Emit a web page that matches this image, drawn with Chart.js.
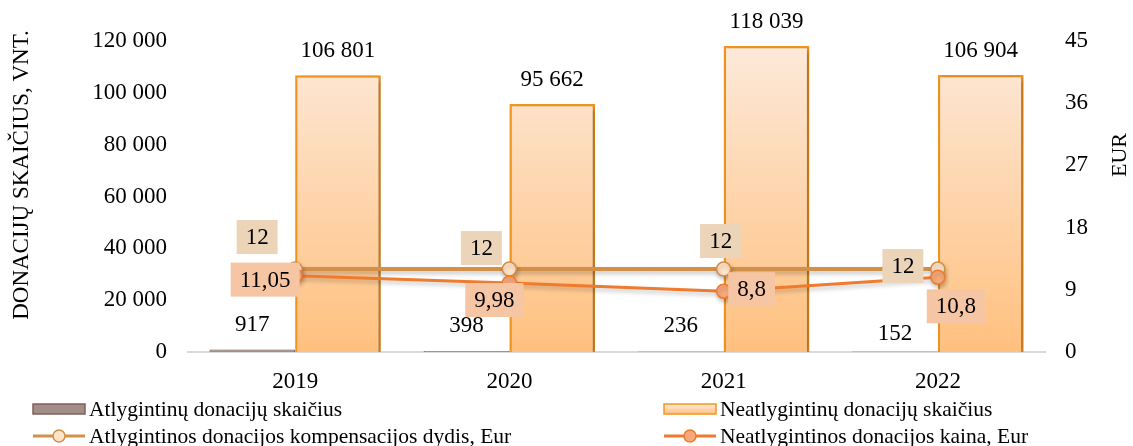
<!DOCTYPE html>
<html>
<head>
<meta charset="utf-8">
<script src="https://cdn.jsdelivr.net/npm/chart.js@4.4.0/dist/chart.umd.min.js"></script>
<style>
    html, body { margin: 0; padding: 0; background: #fff; }
    #wrap { width: 1133px; height: 446px; position: relative; }
</style>
</head>
<body>
<div id="wrap"><canvas id="donationsChart"></canvas></div>
<script>
const years = ['2019', '2020', '2021', '2022'];
const paidCount = [917, 398, 236, 152];
const unpaidCount = [106801, 95662, 118039, 106904];
const paidCompensation = [12, 12, 12, 12];
const unpaidPrice = [11.05, 9.98, 8.8, 10.8];
const countTicks = [0, 20000, 40000, 60000, 80000, 100000, 120000];
const eurTicks = [0, 9, 18, 27, 36, 45];

const seriesNames = [
    'Atlygintinų donacijų skaičius',
    'Neatlygintinų donacijų skaičius',
    'Atlygintinos donacijos kompensacijos dydis, Eur',
    'Neatlygintinos donacijos kaina, Eur'
];
const leftTitle = 'DONACIJŲ SKAIČIUS, VNT.';
const rightTitle = 'EUR';

// label placement relative to the mark (px)
const paidLabelDy = [-25, -25, -25, -18];
const unpaidLabelDy = -24;
const compLabelOffset = [[-38, -32], [-28, -21], [-3, -28], [-35, -3]];
const priceLabelOffset = [[-30, 4], [-15, 17], [28, -2], [18, 29]];

const FONT = "'Liberation Serif', 'Times New Roman', serif";
const BROWN = '#a48d86';
const BROWN_BORDER = '#7d625a';
const ORANGE_BORDER = '#f5961f';
const TAN = '#d39049';
const ORANGE = '#ee7b2e';

function formatNumber(num) {
    return String(num).replace(/\B(?=(\d{3})+(?!\d))/g, ' ');
}

function formatDecimal(num) {
    return String(num).replace('.', ',');
}

function orangeGradient(ctx, top, bottom) {
    const g = ctx.createLinearGradient(0, top, 0, bottom);
    g.addColorStop(0, '#fdeadb');
    g.addColorStop(1, '#ffc07e');
    return g;
}

const shadowPlugin = {
    id: 'shadows',
    beforeDatasetDraw(chart, args) {
        const ctx = chart.ctx;
        ctx.save();
        if (chart.data.datasets[args.index].type === 'bar') {
            ctx.shadowColor = 'rgba(0,0,0,0.28)';
            ctx.shadowBlur = 6;
            ctx.shadowOffsetX = 3;
            ctx.shadowOffsetY = 2;
        } else {
            ctx.shadowColor = 'rgba(0,0,0,0.22)';
            ctx.shadowBlur = 4;
            ctx.shadowOffsetX = 1;
            ctx.shadowOffsetY = 3;
        }
    },
    afterDatasetDraw(chart) {
        chart.ctx.restore();
    }
};

function drawBox(ctx, text, cx, cy, bg) {
    ctx.font = '23px ' + FONT;
    const w = ctx.measureText(text).width + 18;
    const h = 34;
    ctx.fillStyle = bg;
    ctx.fillRect(cx - w / 2, cy - h / 2, w, h);
    ctx.fillStyle = '#000';
    ctx.textAlign = 'center';
    ctx.textBaseline = 'middle';
    ctx.fillText(text, cx, cy + 1);
}

const labelsPlugin = {
    id: 'valueLabels',
    afterDatasetsDraw(chart) {
        const ctx = chart.ctx;
        ctx.save();
        ctx.font = '23px ' + FONT;
        ctx.fillStyle = '#000';
        ctx.textAlign = 'center';
        ctx.textBaseline = 'middle';

        chart.getDatasetMeta(0).data.forEach((bar, i) => {
            ctx.fillText(formatNumber(paidCount[i]), bar.x, bar.y + paidLabelDy[i]);
        });
        chart.getDatasetMeta(1).data.forEach((bar, i) => {
            ctx.fillText(formatNumber(unpaidCount[i]), bar.x, bar.y + unpaidLabelDy);
        });
        chart.getDatasetMeta(2).data.forEach((pt, i) => {
            drawBox(ctx, formatDecimal(paidCompensation[i]), pt.x + compLabelOffset[i][0], pt.y + compLabelOffset[i][1], '#ecd4b9');
        });
        chart.getDatasetMeta(3).data.forEach((pt, i) => {
            drawBox(ctx, formatDecimal(unpaidPrice[i]), pt.x + priceLabelOffset[i][0], pt.y + priceLabelOffset[i][1], '#f6c5a3');
        });
        ctx.restore();
    }
};

const titlesLegendPlugin = {
    id: 'titlesLegend',
    afterDraw(chart) {
        const ctx = chart.ctx;
        ctx.save();
        ctx.fillStyle = '#000';
        ctx.textAlign = 'center';
        ctx.textBaseline = 'middle';

        ctx.font = '23px ' + FONT;
        ctx.save();
        ctx.translate(22, 175);
        ctx.rotate(-Math.PI / 2);
        ctx.fillText(leftTitle, 0, 0);
        ctx.restore();

        ctx.font = '22px ' + FONT;
        ctx.save();
        ctx.translate(1120, 155);
        ctx.rotate(-Math.PI / 2);
        ctx.fillText(rightTitle, 0, 0);
        ctx.restore();

        // legend
        const items = [
            { x: 33, y: 409, kind: 'rect', fill: BROWN, border: BROWN_BORDER },
            { x: 664, y: 409, kind: 'rect', fill: 'grad', border: ORANGE_BORDER },
            { x: 33, y: 436, kind: 'line', color: TAN, fill: '#fde3c8' },
            { x: 664, y: 436, kind: 'line', color: ORANGE, fill: '#f6a878' }
        ];
        ctx.textAlign = 'left';
        ctx.font = '21.5px ' + FONT;
        items.forEach((it, i) => {
            if (it.kind === 'rect') {
                ctx.fillStyle = it.fill === 'grad' ? orangeGradient(ctx, it.y - 5, it.y + 5) : it.fill;
                ctx.fillRect(it.x, it.y - 5, 52, 10);
                ctx.strokeStyle = it.border;
                ctx.lineWidth = 1.5;
                ctx.strokeRect(it.x, it.y - 5, 52, 10);
            } else {
                ctx.strokeStyle = it.color;
                ctx.lineWidth = 3;
                ctx.beginPath();
                ctx.moveTo(it.x, it.y);
                ctx.lineTo(it.x + 52, it.y);
                ctx.stroke();
                ctx.beginPath();
                ctx.arc(it.x + 26, it.y, 6, 0, Math.PI * 2);
                ctx.fillStyle = it.fill;
                ctx.fill();
                ctx.lineWidth = 1.5;
                ctx.stroke();
            }
            ctx.fillStyle = '#000';
            ctx.fillText(seriesNames[i], it.x + 56, it.y + 1);
        });
        ctx.restore();
    }
};

function initDonationsChart() {
    const ctx = document.getElementById('donationsChart').getContext('2d');

    new Chart(ctx, {
        data: {
            labels: years,
            datasets: [{
                type: 'bar',
                label: seriesNames[0],
                data: paidCount,
                backgroundColor: BROWN,
                borderColor: BROWN_BORDER,
                borderWidth: 1,
                yAxisID: 'y',
                order: 2
            }, {
                type: 'bar',
                label: seriesNames[1],
                data: unpaidCount,
                backgroundColor: function(context) {
                    const area = context.chart.chartArea;
                    if (!area) return '#ffd0a0';
                    return orangeGradient(context.chart.ctx, area.top, area.bottom);
                },
                borderColor: ORANGE_BORDER,
                borderWidth: 2.5,
                yAxisID: 'y',
                order: 2
            }, {
                type: 'line',
                label: seriesNames[2],
                data: paidCompensation,
                borderColor: TAN,
                borderWidth: 4,
                pointRadius: 7,
                pointBorderWidth: 1.5,
                pointBackgroundColor: '#fde3c8',
                pointBorderColor: TAN,
                tension: 0,
                yAxisID: 'y1',
                order: 1
            }, {
                type: 'line',
                label: seriesNames[3],
                data: unpaidPrice,
                borderColor: ORANGE,
                borderWidth: 3,
                pointRadius: 7,
                pointBorderWidth: 1.5,
                pointBackgroundColor: '#f6a878',
                pointBorderColor: ORANGE,
                tension: 0,
                yAxisID: 'y1',
                order: 0
            }]
        },
        options: {
            responsive: true,
            maintainAspectRatio: false,
            animation: false,
            layout: { padding: { top: 41 } },
            plugins: {
                legend: { display: false },
                tooltip: { enabled: false }
            },
            datasets: {
                bar: { categoryPercentage: 0.8, barPercentage: 1.0 }
            },
            scales: {
                x: {
                    grid: { display: false, drawTicks: false },
                    border: { display: true, color: '#d9d9d9', width: 2 },
                    ticks: { color: '#000', font: { family: FONT, size: 23 }, padding: 16 },
                    afterFit(scale) { scale.height = 94; }
                },
                y: {
                    position: 'left',
                    min: countTicks[0],
                    max: countTicks[countTicks.length - 1],
                    grid: { display: false, drawTicks: false },
                    border: { display: false },
                    ticks: {
                        stepSize: countTicks[1] - countTicks[0],
                        color: '#000',
                        font: { family: FONT, size: 23 },
                        padding: 21,
                        callback: v => formatNumber(v)
                    },
                    afterFit(scale) { scale.width = 188; }
                },
                y1: {
                    position: 'right',
                    min: eurTicks[0],
                    max: eurTicks[eurTicks.length - 1],
                    grid: { display: false, drawTicks: false },
                    border: { display: false },
                    ticks: {
                        stepSize: eurTicks[1] - eurTicks[0],
                        color: '#000',
                        font: { family: FONT, size: 23 },
                        padding: 20
                    },
                    afterFit(scale) { scale.width = 88; }
                }
            }
        },
        plugins: [shadowPlugin, labelsPlugin, titlesLegendPlugin]
    });
}

document.addEventListener('DOMContentLoaded', initDonationsChart);
</script>
</body>
</html>
